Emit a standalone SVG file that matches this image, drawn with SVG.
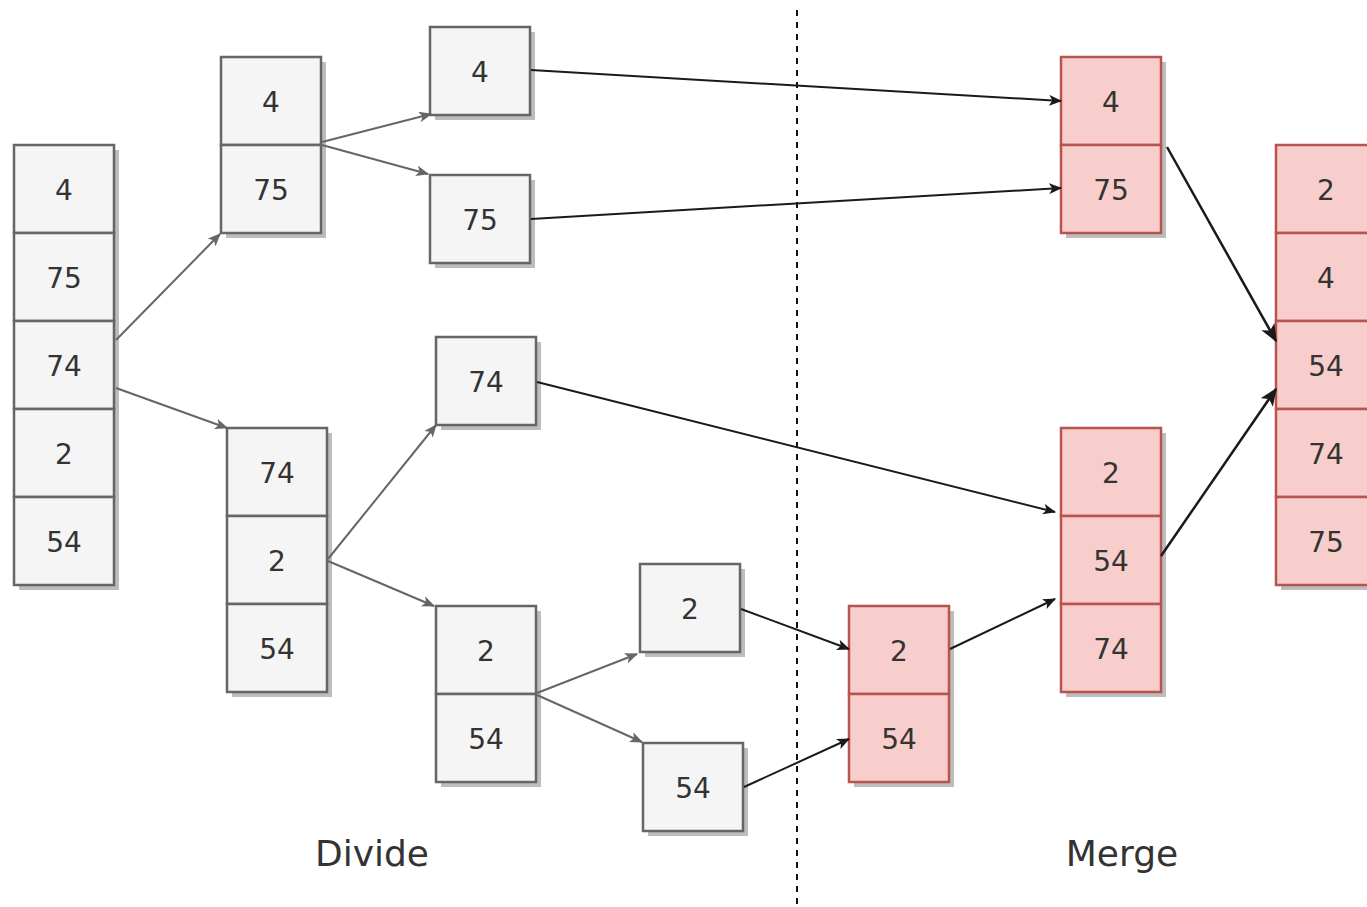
<svg xmlns="http://www.w3.org/2000/svg" width="1367" height="907" viewBox="0 0 1367 907">
<style>
.g{fill:#f5f5f5;stroke:#666666;stroke-width:2.5}
.p{fill:#f8cecc;stroke:#b85450;stroke-width:2.5}
.sh{fill:#bdbdbd}
.t{font-family:"DejaVu Sans",Verdana,sans-serif;font-size:28px;fill:#333333;text-anchor:middle;dominant-baseline:central}
.lbl{font-family:"DejaVu Sans",Verdana,sans-serif;font-size:36px;fill:#333333;text-anchor:middle;dominant-baseline:central}
.cg{stroke:#666666;stroke-width:2;fill:none;marker-end:url(#ag)}
.ck{stroke:#1a1a1a;stroke-width:2;fill:none;marker-end:url(#ak)}
.cb{stroke:#1a1a1a;stroke-width:2.5;fill:none;marker-end:url(#akb)}
</style>
<defs>
<marker id="ag" viewBox="0 0 12 10" refX="11" refY="5" markerWidth="13" markerHeight="11" markerUnits="userSpaceOnUse" orient="auto"><path d="M0,0 L12,5 L0,10 L3,5 Z" fill="#666666"/></marker>
<marker id="ak" viewBox="0 0 12 10" refX="11" refY="5" markerWidth="13" markerHeight="11" markerUnits="userSpaceOnUse" orient="auto"><path d="M0,0 L12,5 L0,10 L3,5 Z" fill="#1a1a1a"/></marker>
<marker id="akb" viewBox="0 0 12 10" refX="11" refY="5" markerWidth="18" markerHeight="15" markerUnits="userSpaceOnUse" orient="auto"><path d="M0,0 L12,5 L0,10 L3,5 Z" fill="#1a1a1a"/></marker>
</defs>
<rect width="1367" height="907" fill="#ffffff"/>

<line x1="797" y1="10" x2="797" y2="907" stroke="#111111" stroke-width="2" stroke-dasharray="6,6"/>

<g id="n-root">
<rect class="sh" x="19" y="150" width="100" height="440"/>
<rect class="g" x="14" y="145" width="100" height="88"/><text class="t" x="64" y="190">4</text>
<rect class="g" x="14" y="233" width="100" height="88"/><text class="t" x="64" y="278">75</text>
<rect class="g" x="14" y="321" width="100" height="88"/><text class="t" x="64" y="366">74</text>
<rect class="g" x="14" y="409" width="100" height="88"/><text class="t" x="64" y="454">2</text>
<rect class="g" x="14" y="497" width="100" height="88"/><text class="t" x="64" y="542">54</text>
</g>

<g id="n-a">
<rect class="sh" x="226" y="62" width="100" height="176"/>
<rect class="g" x="221" y="57" width="100" height="88"/><text class="t" x="271" y="102">4</text>
<rect class="g" x="221" y="145" width="100" height="88"/><text class="t" x="271" y="190">75</text>
</g>

<g id="n-b">
<rect class="sh" x="232" y="433" width="100" height="264"/>
<rect class="g" x="227" y="428" width="100" height="88"/><text class="t" x="277" y="473">74</text>
<rect class="g" x="227" y="516" width="100" height="88"/><text class="t" x="277" y="561">2</text>
<rect class="g" x="227" y="604" width="100" height="88"/><text class="t" x="277" y="649">54</text>
</g>

<g id="n-4">
<rect class="sh" x="435" y="32" width="100" height="88"/>
<rect class="g" x="430" y="27" width="100" height="88"/><text class="t" x="480" y="72">4</text>
</g>

<g id="n-75">
<rect class="sh" x="435" y="180" width="100" height="88"/>
<rect class="g" x="430" y="175" width="100" height="88"/><text class="t" x="480" y="220">75</text>
</g>

<g id="n-74">
<rect class="sh" x="441" y="342" width="100" height="88"/>
<rect class="g" x="436" y="337" width="100" height="88"/><text class="t" x="486" y="382">74</text>
</g>

<g id="n-c">
<rect class="sh" x="441" y="611" width="100" height="176"/>
<rect class="g" x="436" y="606" width="100" height="88"/><text class="t" x="486" y="651">2</text>
<rect class="g" x="436" y="694" width="100" height="88"/><text class="t" x="486" y="739">54</text>
</g>

<g id="n-2">
<rect class="sh" x="645" y="569" width="100" height="88"/>
<rect class="g" x="640" y="564" width="100" height="88"/><text class="t" x="690" y="609">2</text>
</g>

<g id="n-54">
<rect class="sh" x="648" y="748" width="100" height="88"/>
<rect class="g" x="643" y="743" width="100" height="88"/><text class="t" x="693" y="788">54</text>
</g>

<g id="m-254">
<rect class="sh" x="854" y="611" width="100" height="176"/>
<rect class="p" x="849" y="606" width="100" height="88"/><text class="t" x="899" y="651">2</text>
<rect class="p" x="849" y="694" width="100" height="88"/><text class="t" x="899" y="739">54</text>
</g>

<g id="m-475">
<rect class="sh" x="1066" y="62" width="100" height="176"/>
<rect class="p" x="1061" y="57" width="100" height="88"/><text class="t" x="1111" y="102">4</text>
<rect class="p" x="1061" y="145" width="100" height="88"/><text class="t" x="1111" y="190">75</text>
</g>

<g id="m-25474">
<rect class="sh" x="1066" y="433" width="100" height="264"/>
<rect class="p" x="1061" y="428" width="100" height="88"/><text class="t" x="1111" y="473">2</text>
<rect class="p" x="1061" y="516" width="100" height="88"/><text class="t" x="1111" y="561">54</text>
<rect class="p" x="1061" y="604" width="100" height="88"/><text class="t" x="1111" y="649">74</text>
</g>

<g id="m-final">
<rect class="sh" x="1281" y="150" width="100" height="440"/>
<rect class="p" x="1276" y="145" width="100" height="88"/><text class="t" x="1326" y="190">2</text>
<rect class="p" x="1276" y="233" width="100" height="88"/><text class="t" x="1326" y="278">4</text>
<rect class="p" x="1276" y="321" width="100" height="88"/><text class="t" x="1326" y="366">54</text>
<rect class="p" x="1276" y="409" width="100" height="88"/><text class="t" x="1326" y="454">74</text>
<rect class="p" x="1276" y="497" width="100" height="88"/><text class="t" x="1326" y="542">75</text>
</g>

<g id="connectors">
<line class="cg" x1="116" y1="340" x2="220" y2="234"/>
<line class="cg" x1="116" y1="388" x2="227" y2="428"/>
<line class="cg" x1="322" y1="142" x2="431" y2="114"/>
<line class="cg" x1="322" y1="145" x2="428" y2="174"/>
<line class="cg" x1="328" y1="559" x2="436" y2="425"/>
<line class="cg" x1="328" y1="561" x2="434" y2="606"/>
<line class="cg" x1="537" y1="693" x2="637" y2="654"/>
<line class="cg" x1="537" y1="695" x2="642" y2="742"/>
<line class="ck" x1="531" y1="70" x2="1061" y2="101"/>
<line class="ck" x1="531" y1="219" x2="1061" y2="188"/>
<line class="ck" x1="537" y1="382" x2="1055" y2="512"/>
<line class="ck" x1="741" y1="609" x2="849" y2="649"/>
<line class="ck" x1="744" y1="787" x2="849" y2="739"/>
<line class="ck" x1="950" y1="649" x2="1055" y2="599"/>
<line class="cb" x1="1167" y1="147" x2="1276" y2="341"/>
<line class="cb" x1="1161" y1="556" x2="1276" y2="389"/>
</g>

<text class="lbl" x="372" y="853">Divide</text>
<text class="lbl" x="1122" y="853">Merge</text>
</svg>
